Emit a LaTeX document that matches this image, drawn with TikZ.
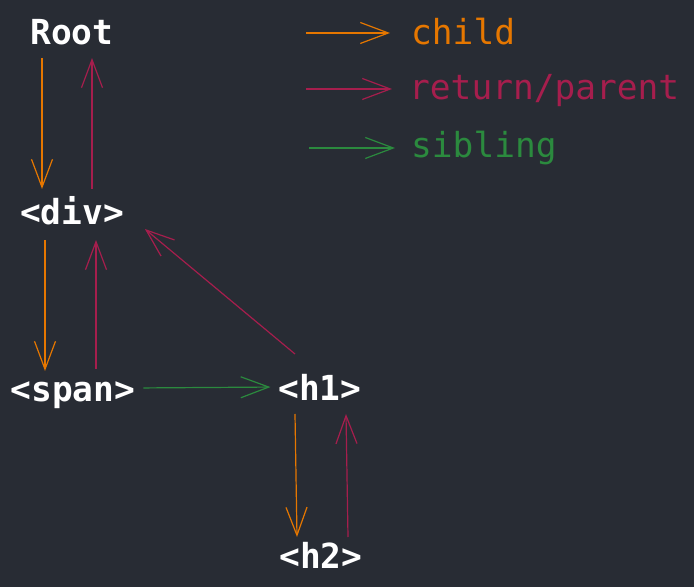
\documentclass[tikz,border=0pt]{standalone}
\usepackage{fontspec}
\setmonofont{DejaVu Sans Mono}
\usetikzlibrary{arrows.meta,calc}
\definecolor{bgdark}{HTML}{282C34}
\definecolor{childcol}{HTML}{E67700}
\definecolor{parentcol}{HTML}{A61E4D}
\definecolor{siblingcol}{HTML}{2B8A3E}

\begin{document}
\begin{tikzpicture}[x=1pt, y=1pt]
    % Styles
    \tikzstyle{elem} = [inner sep=0pt, outer xsep=0pt, outer ysep=7pt, text height=24pt, text depth=6pt, anchor=base, text=white, font=\ttfamily\bfseries\fontsize{34.5}{40}\selectfont]
    \tikzstyle{legend} = [inner sep=0pt, anchor=base west, font=\ttfamily\fontsize{34.5}{40}\selectfont]
    \tikzstyle{arrow} = [-{Straight Barb[length=28pt, width=21pt]}, line width=1.2pt]
    \tikzstyle{childarrow} = [arrow, draw=childcol]
    \tikzstyle{parentarrow} = [arrow, draw=parentcol]
    \tikzstyle{siblingarrow} = [arrow, draw=siblingcol]

    % Background
    \fill[bgdark] (0,0) rectangle (694,587);
    \useasboundingbox (0,0) rectangle (694,587);

    % Nodes
    \node[elem] (root) at (72, 542) {Root};
    \node[elem] (div) at (72, 362) {<div>};
    \node[elem] (span) at (73, 185) {<span>};
    \node[elem] (h1) at (320, 186) {<h1>};
    \node[elem] (h2) at (321, 19) {<h2>};

    % Legend
    \node[legend, text=childcol] (lchild) at (411, 542) {child};
    \node[legend, text=parentcol] (lparent) at (409, 487) {return/parent};
    \node[legend, text=siblingcol] (lsibling) at (411, 429) {sibling};
    \coordinate (cchild) at (306, 554);
    \coordinate (cparent) at (306, 498);
    \coordinate (csibling) at (309, 439);

    % Arrows
    \draw[childarrow] ([xshift=-30pt]root.south) -- ([shift={(-30pt,5pt)}]div.north);
    \draw[parentarrow] ([shift={(20pt,5pt)}]div.north) -- ([xshift=20pt]root.south);
    \draw[childarrow] ([shift={(-27pt,-2pt)}]div.south) -- ([xshift=-28pt]span.north);
    \draw[parentarrow] ([shift={(23pt,2pt)}]span.north) -- ([shift={(24pt,-2pt)}]div.south);
    \draw[parentarrow] ([shift={(-25pt,16pt)}]h1.north) -- ([shift={(21pt,-13pt)}]div.east);
    \draw[siblingarrow, shorten <=8pt, shorten >=8pt] ([yshift=5pt]span.east) -- ([yshift=5pt]h1.west);
    \draw[childarrow] ([xshift=-25pt]h1.south) -- ([xshift=-24pt]h2.north);
    \draw[parentarrow] ([xshift=27pt]h2.north) -- ([xshift=26pt]h1.south);

    % Legend arrows
    \draw[childarrow] (cchild) -- ($(cchild -| lchild.west)+(-21pt,0)$);
    \draw[parentarrow] (cparent) -- ($(cparent -| lparent.west)+(-17pt,0)$);
    \draw[siblingarrow] (csibling) -- ($(csibling -| lsibling.west)+(-16pt,0)$);
\end{tikzpicture}
\end{document}
